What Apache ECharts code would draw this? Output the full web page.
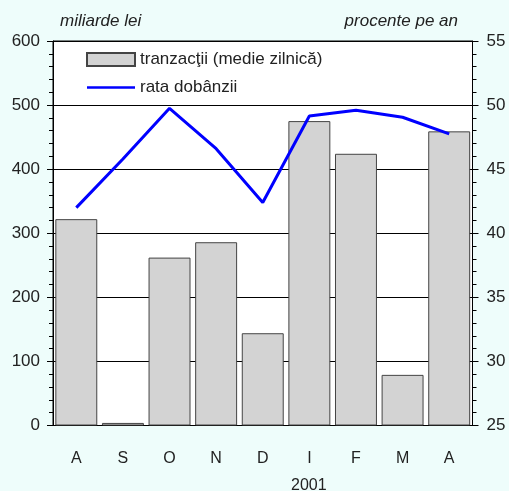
<!DOCTYPE html>
<html>
<head>
<meta charset="utf-8">
<script src="https://cdn.jsdelivr.net/npm/echarts@6/dist/echarts.min.js"></script>
<style>
html,body{margin:0;padding:0;background:#eefdfb;}
#c{width:509px;height:491px;}
</style>
</head>
<body>
<div id="c"></div>
<script>
var categories = ['A','S','O','N','D','I','F','M','A'];
var tranzactii = [322, 4, 262, 286, 144, 475, 424, 79, 459];
var rata = [42.0, 45.8, 49.75, 46.6, 42.4, 49.15, 49.6, 49.05, 47.75];
var leftTicks = {min: 0, max: 600, interval: 100};
var rightTicks = {min: 25, max: 55, interval: 5};
var seriesNames = ['tranzacţii (medie zilnică)', 'rata dobânzii'];
var leftUnit = 'miliarde lei';
var rightUnit = 'procente pe an';
var yearLabel = '2001';

var FONT = 'Liberation Sans, Arial, sans-serif';
var lineIcon = 'path://M0,0 L0.02,0 L0.02,0.02 Z M0,5.3 L48,5.3 L48,7.7 L0,7.7 Z M47.98,13 L48,13 L48,12.98 Z';
var chart = echarts.init(document.getElementById('c'));
chart.setOption({
  backgroundColor: '#eefdfb',
  animation: false,
  textStyle: {fontFamily: FONT},
  grid: {left: 53, right: 36.5, top: 41, bottom: 65.5, show: true, backgroundColor: '#ffffff', borderColor: '#000', borderWidth: 1, outerBoundsMode: 'none'},
  legend: {
    orient: 'vertical', left: 81, top: 46, itemWidth: 48, itemHeight: 13, itemGap: 11,
    textStyle: {fontFamily: FONT, fontSize: 17, color: '#222'},
    data: [{name: seriesNames[0], icon: 'rect'}, {name: seriesNames[1], icon: lineIcon}]
  },
  graphic: [
    {type: 'text', left: 60, top: 13, style: {text: leftUnit, font: 'italic 17px ' + FONT, fill: '#222'}},
    {type: 'text', right: 51, top: 13, style: {text: rightUnit, font: 'italic 17px ' + FONT, fill: '#222'}},
    {type: 'text', left: 291, top: 478, style: {text: yearLabel, font: '16px ' + FONT, fill: '#222'}}
  ],
  xAxis: {
    type: 'category', data: categories,
    axisLine: {lineStyle: {color: '#000'}},
    axisTick: {show: false},
    axisLabel: {fontSize: 16, color: '#222', margin: 25}
  },
  yAxis: [
    {
      type: 'value', min: leftTicks.min, max: leftTicks.max, interval: leftTicks.interval,
      axisLine: {show: true, lineStyle: {color: '#000'}},
      axisTick: {show: true, length: 6, lineStyle: {color: '#000'}},
      minorTick: {show: true, splitNumber: 5, length: 4, lineStyle: {color: '#000'}},
      splitLine: {show: true, lineStyle: {color: '#000', width: 1}},
      axisLabel: {fontSize: 17, color: '#222', margin: 13}
    },
    {
      type: 'value', min: rightTicks.min, max: rightTicks.max, interval: rightTicks.interval,
      axisLine: {show: true, lineStyle: {color: '#000'}},
      axisTick: {show: true, length: 6, lineStyle: {color: '#000'}},
      minorTick: {show: true, splitNumber: 5, length: 4, lineStyle: {color: '#000'}},
      splitLine: {show: false},
      axisLabel: {fontSize: 17, color: '#222', margin: 14}
    }
  ],
  series: [
    {
      name: seriesNames[0], type: 'bar', data: tranzactii, barCategoryGap: '10%',
      itemStyle: {color: '#d3d3d3', borderColor: '#444', borderWidth: 1}
    },
    {
      name: seriesNames[1], type: 'line', yAxisIndex: 1, data: rata, symbol: 'none',
      lineStyle: {color: '#0000ff', width: 3}, itemStyle: {color: '#0000ff'}, z: 5
    }
  ]
});
</script>
</body>
</html>
